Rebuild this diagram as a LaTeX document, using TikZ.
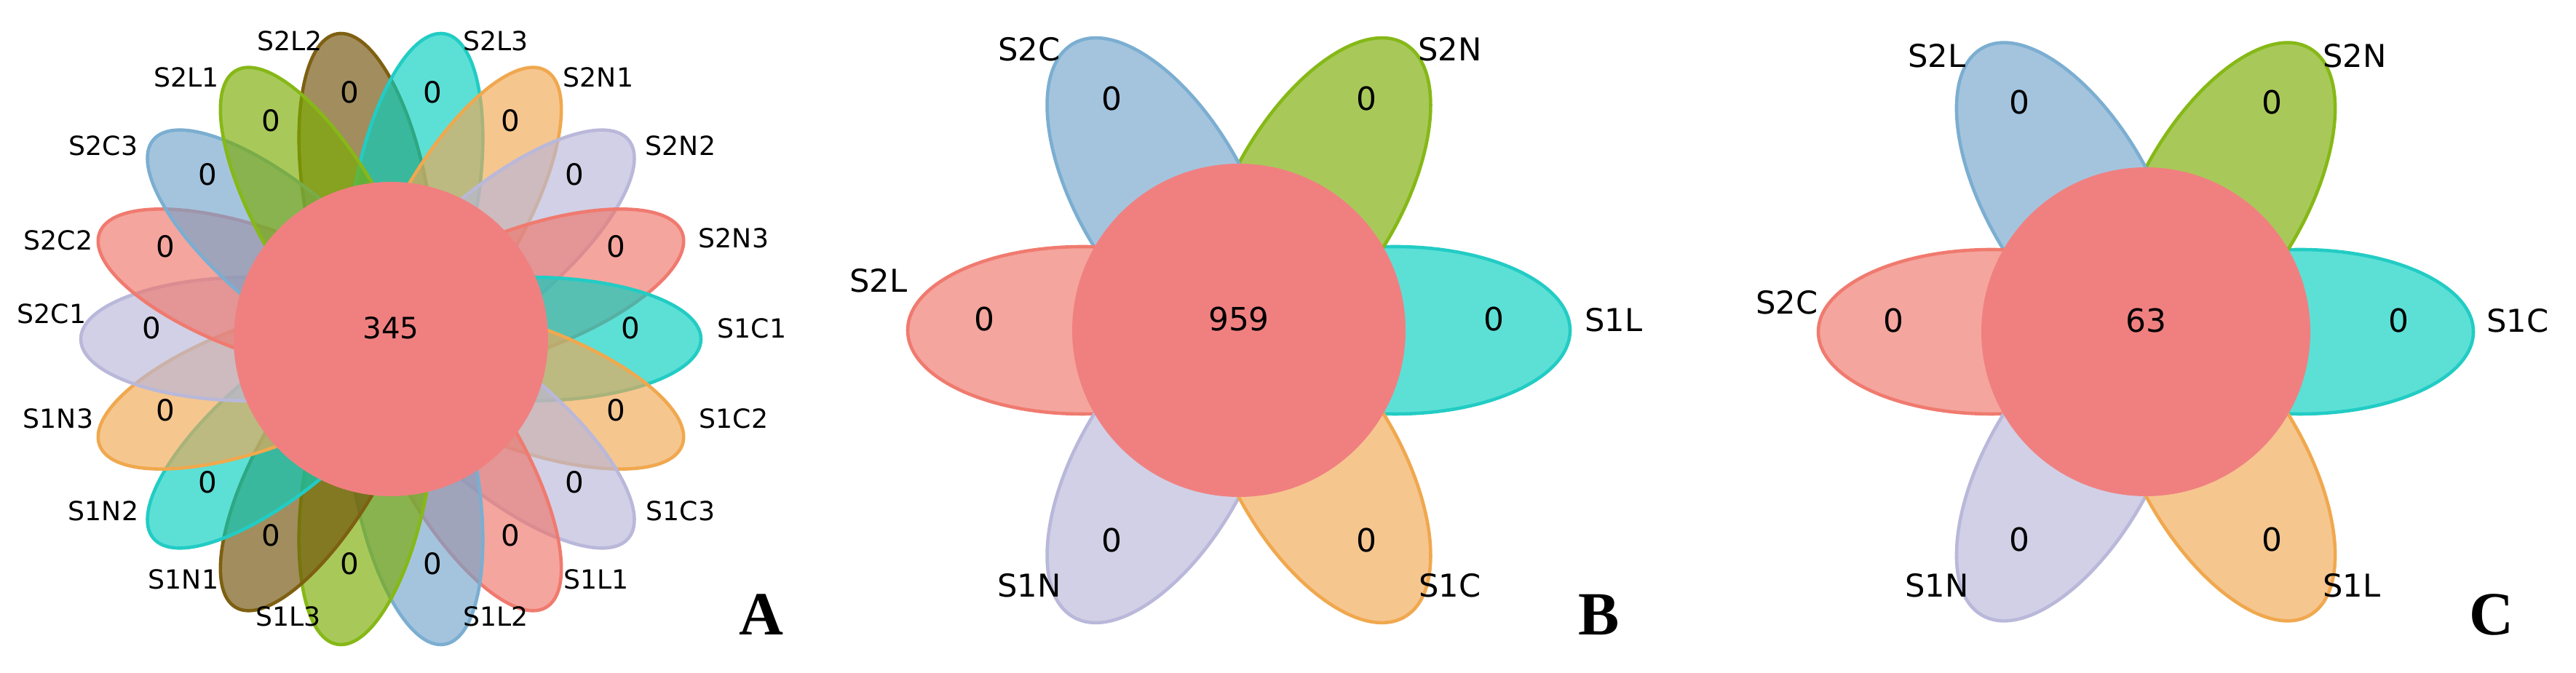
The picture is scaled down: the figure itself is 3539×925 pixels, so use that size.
\documentclass[tikz,border=0pt]{standalone}
\usepackage{fontspec}
\setmainfont{DejaVu Sans}
\newfontfamily\panelfont{Liberation Serif}

\definecolor{bluF}{RGB}{115,164,204}
\definecolor{bluL}{RGB}{123,174,209}
\definecolor{grnF}{RGB}{121,172,1}
\definecolor{grnL}{RGB}{134,184,23}
\definecolor{redF}{RGB}{238,117,106}
\definecolor{redL}{RGB}{240,122,111}
\definecolor{cynF}{RGB}{4,207,192}
\definecolor{cynL}{RGB}{34,204,196}
\definecolor{lavF}{RGB}{184,183,217}
\definecolor{lavL}{RGB}{185,184,218}
\definecolor{orgF}{RGB}{241,167,83}
\definecolor{orgL}{RGB}{240,168,78}
\definecolor{brnF}{RGB}{112,80,7}
\definecolor{brnL}{RGB}{126,96,18}
\definecolor{hubcol}{RGB}{240,128,128}

\tikzset{
  petal/.style={line width=1.3pt, fill opacity=0.65},
  hub/.style={fill=hubcol},
  setA/.style={inner sep=0pt, font=\fontsize{10.3}{12}\selectfont},
  numA/.style={inner sep=0pt, font=\fontsize{11.5}{13}\selectfont},
  setB/.style={inner sep=0pt, font=\fontsize{12.3}{14}\selectfont},
  numB/.style={inner sep=0pt, font=\fontsize{12.5}{14}\selectfont},
  panel/.style={inner sep=0pt, font=\panelfont\bfseries\fontsize{24}{26}\selectfont}
}

\begin{document}
\begin{tikzpicture}[x=0.01cm, y=0.01cm]
    \useasboundingbox (0,0) rectangle (3539,925);

    % A
    \begin{scope}[shift={(537,459)}]
        \foreach \ang/\fc/\dc in {100/brnF/brnL, 80/cynF/cynL, 60/orgF/orgL, 40/lavF/lavL,
                20/redF/redL, 0/cynF/cynL, 340/orgF/orgL, 320/lavF/lavL, 300/redF/redL,
                280/bluF/bluL, 260/grnF/grnL, 240/brnF/brnL, 220/cynF/cynL, 200/orgF/orgL,
                180/lavF/lavL, 160/redF/redL, 140/bluF/bluL, 120/grnF/grnL}
            \draw[petal, fill=\fc, draw=\dc, rotate=\ang] (191,0) ellipse [x radius=235, y radius=85];
        \fill[hub] (0,0) circle (216);
        \node[numA] (A-all) at (0,15) {345};
        \foreach \ang [count=\i] in {0,20,...,340}
            \node[numA, yshift=0.15cm] (A-z\i) at (\ang:329) {0};
        \foreach \x/\y/\t in {-139/410/S2L2, 144/410/S2L3, -281/360/S2L1, 285/360/S2N1,
                -395/266/S2C3, 398/266/S2N2, -457/136/S2C2, 471/139/S2N3,
                -466/35/S2C1, 496/15/S1C1, -457/-109/S1N3, 471/-109/S1C2,
                -395/-236/S1N2, 398/-236/S1C3, -285/-330/S1N1, 282/-330/S1L1,
                -141/-381/S1L3, 144/-381/S1L2}
            \node[setA] (A-\t) at (\x,\y) {\t};
    \end{scope}
    \node[panel] (lblA) at (1046,80) {A};

    % B
    \begin{scope}[shift={(1702,471)}]
        \foreach \ang/\fc/\dc in {0/cynF/cynL, 60/grnF/grnL, 120/bluF/bluL,
                180/redF/redL, 240/lavF/lavL, 300/orgF/orgL}
            \draw[petal, fill=\fc, draw=\dc, rotate=\ang] (215,0) ellipse [x radius=240, y radius=115];
        \fill[hub] (0,0) circle (229);
        \node[numB] (B-all) at (0,15) {959};
        \foreach \ang [count=\i] in {0,60,...,300}
            \node[numB, yshift=0.15cm] (B-z\i) at (\ang:350) {0};
        \foreach \x/\y/\t in {-288/386/S2C, 290/386/S2N, -495/68/S2L,
                515/14/S1L, -288/-351/S1N, 290/-351/S1C}
            \node[setB] (B-\t) at (\x,\y) {\t};
    \end{scope}
    \node[panel] (lblB) at (2197,80) {B};

    % C
    \begin{scope}[shift={(2948,469)}]
        \foreach \ang/\fc/\dc in {0/cynF/cynL, 60/grnF/grnL, 120/bluF/bluL,
                180/redF/redL, 240/lavF/lavL, 300/orgF/orgL}
            \draw[petal, fill=\fc, draw=\dc, rotate=\ang] (212,0) ellipse [x radius=238, y radius=113];
        \fill[hub] (0,0) circle (226);
        \node[numB] (C-all) at (0,15) {63};
        \foreach \ang [count=\i] in {0,60,...,300}
            \node[numB, yshift=0.15cm] (C-z\i) at (\ang:347) {0};
        \foreach \x/\y/\t in {-287/379/S2L, 287/379/S2N, -493/40/S2C,
                511/15/S1C, -287/-349/S1N, 283/-349/S1L}
            \node[setB] (C-\t) at (\x,\y) {\t};
    \end{scope}
    \node[panel] (lblC) at (3423,80) {C};
\end{tikzpicture}
\end{document}
